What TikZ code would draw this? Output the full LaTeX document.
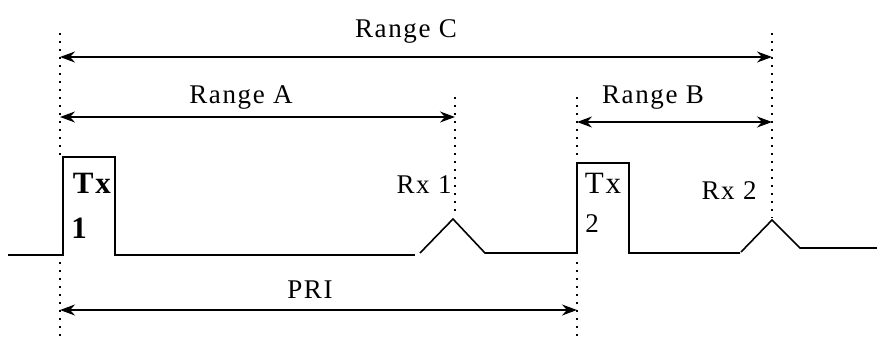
\documentclass[tikz,border=0pt]{standalone}
\usepackage{fontspec}
\setmainfont{Liberation Serif}[LetterSpace=6]
\usetikzlibrary{arrows.meta}
\begin{document}
\begin{tikzpicture}[x=1pt,y=-1pt, every node/.style={font=\fontsize{27}{30}\selectfont,inner sep=0pt,anchor=base}]
  \tikzstyle{sig}=[line width=1.6pt]
  \tikzstyle{guide}=[line width=2.2pt,dash pattern=on 2pt off 6pt]
  \tikzstyle{span}=[line width=1.4pt,{Stealth[length=15pt,width=11pt]}-{Stealth[length=15pt,width=11pt]}]
  \tikzstyle{big}=[font=\fontsize{31}{34}\selectfont]
  \useasboundingbox (0,0) rectangle (877,340);
  % signal
  \draw[sig] (8,255) -- (63,255) -- (63,157) -- (115,157) -- (115,255) -- (415,255);
  \draw[sig] (420,253) -- (453,219) -- (485,253) -- (577,253) -- (577,163) -- (629,163) -- (629,253) -- (740,253);
  \draw[sig] (741,252) -- (772,220) -- (800,248) -- (877,248);
  % guide lines
  \draw[guide] (60,33) -- (60,157);  \draw[guide] (60,262) -- (60,340);
  \draw[guide] (455,97) -- (455,215);
  \draw[guide] (577,97) -- (577,160); \draw[guide] (577,262) -- (577,340);
  \draw[guide] (772,33) -- (772,218);
  % arrow ends
  \coordinate (cL) at (60,57);  \coordinate (cR) at (772,57);
  \coordinate (aL) at (60,117); \coordinate (aR) at (455,117);
  \coordinate (bL) at (577,122); \coordinate (bR) at (772,122);
  \coordinate (pL) at (60,310); \coordinate (pR) at (577,310);
  \draw[span] (cL) -- (cR);
  \draw[span] (aL) -- (aR);
  \draw[span] (bL) -- (bR);
  \draw[span] (pL) -- (pR);
  % labels
  \node (rc) at (406,37) {Range C};
  \node (ra) at (241,103) {Range A};
  \node (rb) at (653,103) {Range B};
  \node (pri) at (310,298) {PRI};
  \node (rx1) at (424,193) {Rx 1};
  \node (rx2) at (729,199) {Rx 2};
  \node[big] (tx1) at (92,193) {\bfseries Tx};
  \node[big] (n1) at (79,238) {\bfseries 1};
  \node[big] (tx2) at (603,193) {Tx};
  \node (n2) at (592,232) {2};
\end{tikzpicture}
\end{document}
